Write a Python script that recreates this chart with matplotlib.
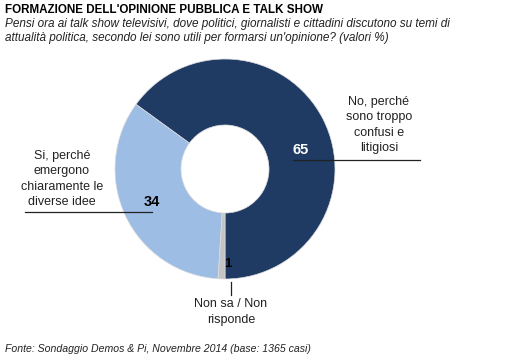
import matplotlib.pyplot as plt

plt.rcParams["font.family"] = ["Liberation Sans", "DejaVu Sans"]

labels = ["No, perché\nsono troppo\nconfusi e\nlitigiosi",
          "Si, perché\nemergono\nchiaramente le\ndiverse idee",
          "Non sa / Non\nrisponde"]
values = [65, 34, 1]
colors = ["#1f3b64", "#9dbde4", "#c4c4c4"]

W, H = 519, 360
fig = plt.figure(figsize=(W / 100, H / 100), dpi=100)
ax = fig.add_axes([0, 0, 1, 1])


def py(y):
    # pixel row (from top) -> data y
    return H - y


cx, cy, R = 225, py(169), 110
wedges, _ = ax.pie(values, colors=colors, startangle=-90, counterclock=True,
                   center=(cx, cy), radius=R,
                   wedgeprops=dict(width=R * 0.6, edgecolor="#dddddd", linewidth=0.5))
ax.set_xlim(0, W)
ax.set_ylim(0, H)
ax.set_aspect("equal")
ax.axis("off")

# value labels and leader lines
ax.text(301, py(150), str(values[0]), color="white", fontsize=10.5,
        fontweight="bold", ha="center", va="center")
ax.plot([293, 420], [py(160), py(160)], color="#222222", lw=0.9)
ax.text(379, py(125), labels[0], fontsize=9, ha="center", va="center",
        color="#222222", linespacing=1.35)

ax.text(152, py(202), str(values[1]), color="black", fontsize=10.5,
        fontweight="bold", ha="center", va="center")
ax.plot([25, 152], [py(212), py(212)], color="#222222", lw=0.9)
ax.text(62, py(179), labels[1], fontsize=9, ha="center", va="center",
        color="#222222", linespacing=1.35)

ax.text(228, py(264), str(values[2]), color="black", fontsize=9.5,
        fontweight="bold", ha="center", va="center")
ax.plot([231, 231], [py(282), py(295)], color="#222222", lw=0.9)
ax.text(231, py(312), labels[2], fontsize=9, ha="center", va="center",
        color="#222222", linespacing=1.35)

# titles
fig.text(5 / W, 1 - 4 / H, "FORMAZIONE DELL'OPINIONE PUBBLICA E TALK SHOW",
         fontsize=8.35, fontweight="bold", ha="left", va="top")
fig.text(5 / W, 1 - 18 / H,
         "Pensi ora ai talk show televisivi, dove politici, giornalisti e cittadini discutono su temi di\n"
         "attualità politica, secondo lei sono utili per formarsi un'opinione? (valori %)",
         fontsize=8.5, style="italic", ha="left", va="top", color="#222222",
         linespacing=1.25)
fig.text(5 / W, 1 - 349 / H,
         "Fonte: Sondaggio Demos & Pi, Novembre 2014 (base: 1365 casi)",
         fontsize=7.6, style="italic", ha="left", va="center", color="#222222")

fig.savefig("out.png", dpi=100)
